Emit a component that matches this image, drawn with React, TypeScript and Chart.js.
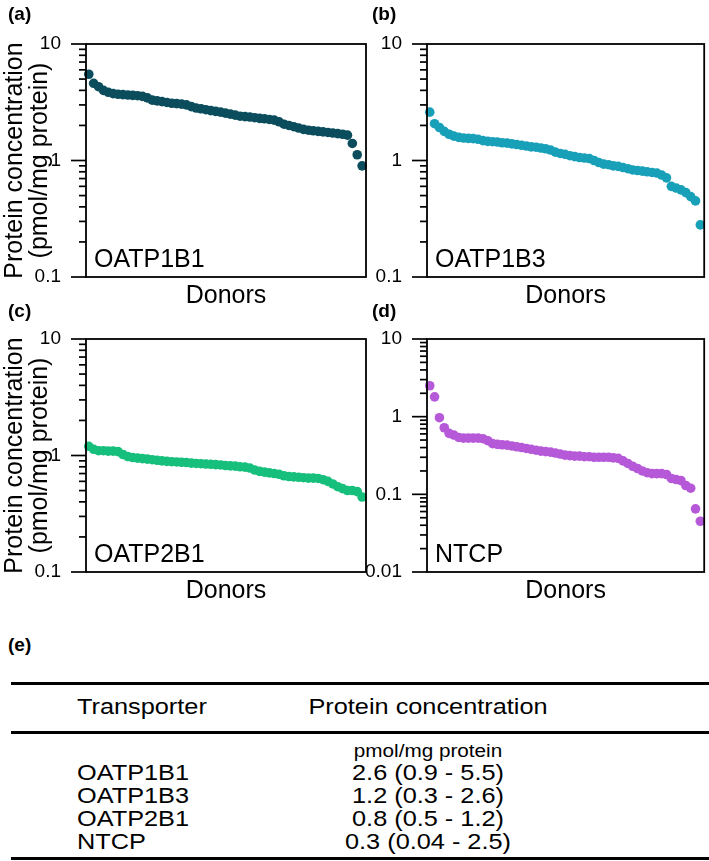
import React, { useEffect, useRef } from 'react';
import { Chart, registerables } from 'chart.js';

Chart.register(...registerables);

const FONT = '"Liberation Sans", Arial, Helvetica, sans-serif';

// Protein concentration (pmol/mg protein), donors ranked from highest to lowest
const OATP1B1 = [
  5.5, 4.6, 4.3, 4.0, 3.85, 3.75, 3.7, 3.68, 3.65, 3.62, 3.6, 3.55, 3.45, 3.3, 3.25, 3.2, 3.15, 3.1, 3.08,
  3.05, 3.0, 2.9, 2.82, 2.78, 2.73, 2.68, 2.64, 2.6, 2.55, 2.5, 2.45, 2.4, 2.38, 2.36, 2.33, 2.3, 2.28, 2.25,
  2.22, 2.15, 2.05, 2.0, 1.95, 1.9, 1.85, 1.82, 1.8, 1.78, 1.76, 1.74, 1.72, 1.7, 1.68, 1.65, 1.4, 1.12, 0.9,
];
const OATP1B3 = [
  2.6, 2.07, 1.92, 1.78, 1.68, 1.62, 1.58, 1.56, 1.55, 1.54, 1.52, 1.48, 1.46, 1.45, 1.44, 1.42, 1.41, 1.39,
  1.37, 1.35, 1.33, 1.31, 1.3, 1.28, 1.26, 1.23, 1.18, 1.15, 1.13, 1.1, 1.08, 1.06, 1.05, 1.04, 1.0, 0.96, 0.93,
  0.92, 0.9, 0.89, 0.87, 0.85, 0.83, 0.82, 0.81, 0.8, 0.79, 0.78, 0.75, 0.71, 0.6, 0.58, 0.56, 0.53, 0.49, 0.45,
  0.28,
];
const OATP2B1 = [
  1.2, 1.13, 1.1, 1.1, 1.09, 1.09, 1.08, 1.02, 0.98, 0.96, 0.95, 0.94, 0.93, 0.92, 0.91, 0.9, 0.89, 0.885,
  0.88, 0.875, 0.87, 0.86, 0.855, 0.85, 0.845, 0.84, 0.835, 0.83, 0.82, 0.815, 0.81, 0.8, 0.795, 0.78, 0.75,
  0.73, 0.72, 0.71, 0.7, 0.69, 0.67, 0.66, 0.655, 0.65, 0.645, 0.64, 0.64, 0.635, 0.62, 0.6, 0.57, 0.54, 0.52,
  0.5, 0.5, 0.49, 0.44,
];
const NTCP = [
  2.5, 1.8, 0.97, 0.72, 0.61, 0.58, 0.54, 0.53, 0.53, 0.53, 0.53, 0.52, 0.49, 0.45, 0.44, 0.435, 0.43, 0.42,
  0.41, 0.4, 0.39, 0.38, 0.37, 0.36, 0.355, 0.35, 0.34, 0.33, 0.32, 0.315, 0.31, 0.31, 0.305, 0.305, 0.3, 0.3,
  0.3, 0.3, 0.295, 0.29, 0.27, 0.25, 0.23, 0.215, 0.2, 0.19, 0.185, 0.185, 0.185, 0.18, 0.16, 0.155, 0.15,
  0.13, 0.12, 0.065, 0.045,
];

// y-axis ticks: labelled decades and unlabelled minor multipliers
const DECADES_3 = [0.1, 1, 10];
const DECADES_4 = [0.01, 0.1, 1, 10];
const MINOR_MULTIPLIERS = [2, 3, 4, 5, 6, 7, 8, 9];

const Y_TITLE = ['Protein concentration', '(pmol/mg protein)'];
const X_TITLE = 'Donors';

const TABLE_HEADER = ['Transporter', 'Protein concentration'];
const TABLE_UNIT = 'pmol/mg protein';
const TABLE_NAMES = ['OATP1B1', 'OATP1B3', 'OATP2B1', 'NTCP'];
const TABLE_VALUES = ['2.6 (0.9 - 5.5)', '1.2 (0.3 - 2.6)', '0.8 (0.5 - 1.2)', '0.3 (0.04 - 2.5)'];

const tickList = (decades: number[]) => {
  const out: { value: number; major: boolean }[] = [];
  decades.forEach((d, i) => {
    out.push({ value: d, major: true });
    if (i < decades.length - 1) MINOR_MULTIPLIERS.forEach((m) => out.push({ value: m * d, major: false }));
  });
  return out;
};

const framePlugin = (name: string, decades: number[]) => ({
  id: 'frameAndLabel',
  afterDraw(chart: any) {
    const ctx: CanvasRenderingContext2D = chart.ctx;
    const a = chart.chartArea;
    const y = chart.scales.y;
    ctx.save();
    ctx.strokeStyle = '#000';
    ctx.lineWidth = 1.8;
    ctx.strokeRect(a.left, a.top, a.right - a.left, a.bottom - a.top);
    ctx.lineWidth = 1.7;
    const ticks = tickList(decades);
    for (let i = 0; i < ticks.length; i++) {
      const t = ticks[i];
      const len = t.major ? 15 : 7;
      const py = y.getPixelForValue(t.value);
      ctx.beginPath();
      ctx.moveTo(a.left - len, py);
      ctx.lineTo(a.left, py);
      ctx.stroke();
    }
    ctx.fillStyle = '#000';
    ctx.font = `25px ${FONT}`;
    ctx.textBaseline = 'alphabetic';
    ctx.textAlign = 'left';
    ctx.fillText(name, a.left + 8, a.bottom - 10);
    ctx.restore();
  },
});

type PanelProps = {
  left: number;
  top: number;
  width: number;
  rightPad: number;
  values: number[];
  color: string;
  decades: number[];
  showYTitle: boolean;
  name: string;
};

function Panel({ left, top, width, rightPad, values, color, decades, showYTitle, name }: PanelProps) {
  const ref = useRef<HTMLCanvasElement | null>(null);
  const height = 310;
  useEffect(() => {
    if (!ref.current) return;
    const chart = new Chart(ref.current, {
      type: 'scatter',
      data: {
        datasets: [
          {
            data: values.map((v, i) => ({ x: i + 1, y: v })),
            backgroundColor: color,
            borderWidth: 0,
            pointRadius: 4.8,
            pointHoverRadius: 4.8,
            clip: false as any,
          },
        ],
      },
      options: {
        animation: false,
        responsive: false,
        devicePixelRatio: 1,
        events: [],
        layout: { padding: { top: 44, right: rightPad, bottom: 0, left: 0 } },
        plugins: { legend: { display: false }, tooltip: { enabled: false } },
        scales: {
          x: {
            type: 'linear',
            min: 0.43,
            max: 57.8,
            ticks: { display: false },
            grid: { display: false },
            border: { display: false },
            title: {
              display: true,
              text: X_TITLE,
              color: '#000',
              font: { family: FONT, size: 25, lineHeight: 1 },
              padding: { top: 0, bottom: 1 },
            },
            afterFit: (s: any) => {
              s.height = 33;
            },
          },
          y: {
            type: 'logarithmic',
            min: decades[0],
            max: decades[decades.length - 1],
            afterBuildTicks: (s: any) => {
              s.ticks = tickList(decades);
            },
            ticks: {
              autoSkip: false,
              color: '#000',
              padding: 17,
              font: { family: FONT, size: 19 },
              callback: (v: any) => (decades.includes(Number(v)) ? String(v) : ''),
            },
            grid: { display: false },
            border: { display: false },
            title: {
              display: showYTitle,
              text: Y_TITLE,
              color: '#000',
              font: { family: FONT, size: 25, lineHeight: 1 },
              padding: { top: 3, bottom: 0 },
            },
            afterFit: (s: any) => {
              s.width = 86;
            },
          },
        },
      } as any,
      plugins: [framePlugin(name, decades)],
    });
    return () => chart.destroy();
  }, []);
  return (
    <canvas
      ref={ref}
      width={width}
      height={height}
      style={{ position: 'absolute', left, top, width, height, zIndex: 1 }}
    />
  );
}

const labelStyle = (left: number, top: number): React.CSSProperties => ({
  position: 'absolute',
  left,
  top,
  fontFamily: FONT,
  fontWeight: 'bold',
  fontSize: 19,
  lineHeight: '20px',
  color: '#000',
  zIndex: 2,
});

const textAt = (
  left: number,
  centerY: number,
  size: number,
  align: 'left' | 'center' = 'left',
  width = 0,
): React.CSSProperties => ({
  position: 'absolute',
  left: align === 'center' ? left - width / 2 : left,
  width: align === 'center' ? width : undefined,
  textAlign: align,
  top: centerY - 15,
  height: 30,
  lineHeight: '30px',
  fontFamily: FONT,
  fontSize: size,
  color: '#000',
  whiteSpace: 'nowrap',
  transform: 'scaleX(1.15)',
  transformOrigin: align === 'center' ? 'center' : 'left',
});

const rule = (top: number): React.CSSProperties => ({
  position: 'absolute',
  left: 11,
  width: 698,
  top,
  height: 2.5,
  background: '#000',
});

export default function App() {
  const rowY = [773, 796, 819, 842];
  return (
    <div style={{ position: 'absolute', left: 0, top: 0, width: 709, height: 861, background: '#fff', overflow: 'hidden' }}>
      <Panel left={0} top={0} width={372} rightPad={6} values={OATP1B1} color="#0b4d5c" decades={DECADES_3} showYTitle name="OATP1B1" />
      <Panel left={341} top={0} width={368} rightPad={3} values={OATP1B3} color="#18a0b9" decades={DECADES_3} showYTitle={false} name="OATP1B3" />
      <Panel left={0} top={295} width={372} rightPad={6} values={OATP2B1} color="#16bf7b" decades={DECADES_3} showYTitle name="OATP2B1" />
      <Panel left={341} top={295} width={368} rightPad={3} values={NTCP} color="#b659d9" decades={DECADES_4} showYTitle={false} name="NTCP" />

      <div style={labelStyle(8, 4)}>(a)</div>
      <div style={labelStyle(372, 4)}>(b)</div>
      <div style={labelStyle(8, 301)}>(c)</div>
      <div style={labelStyle(372, 301)}>(d)</div>
      <div style={labelStyle(8, 635)}>(e)</div>

      <div style={rule(682)} />
      <div style={textAt(77, 707, 22)}>{TABLE_HEADER[0]}</div>
      <div style={textAt(428, 707, 22, 'center', 320)}>{TABLE_HEADER[1]}</div>
      <div style={rule(731)} />
      <div style={textAt(428, 751, 18, 'center', 320)}>{TABLE_UNIT}</div>
      {TABLE_NAMES.map((n, i) => (
        <div key={n} style={textAt(77, rowY[i], 22)}>{n}</div>
      ))}
      {TABLE_VALUES.map((v, i) => (
        <div key={v} style={textAt(428, rowY[i], 22, 'center', 320)}>{v}</div>
      ))}
      <div style={rule(857)} />
    </div>
  );
}
